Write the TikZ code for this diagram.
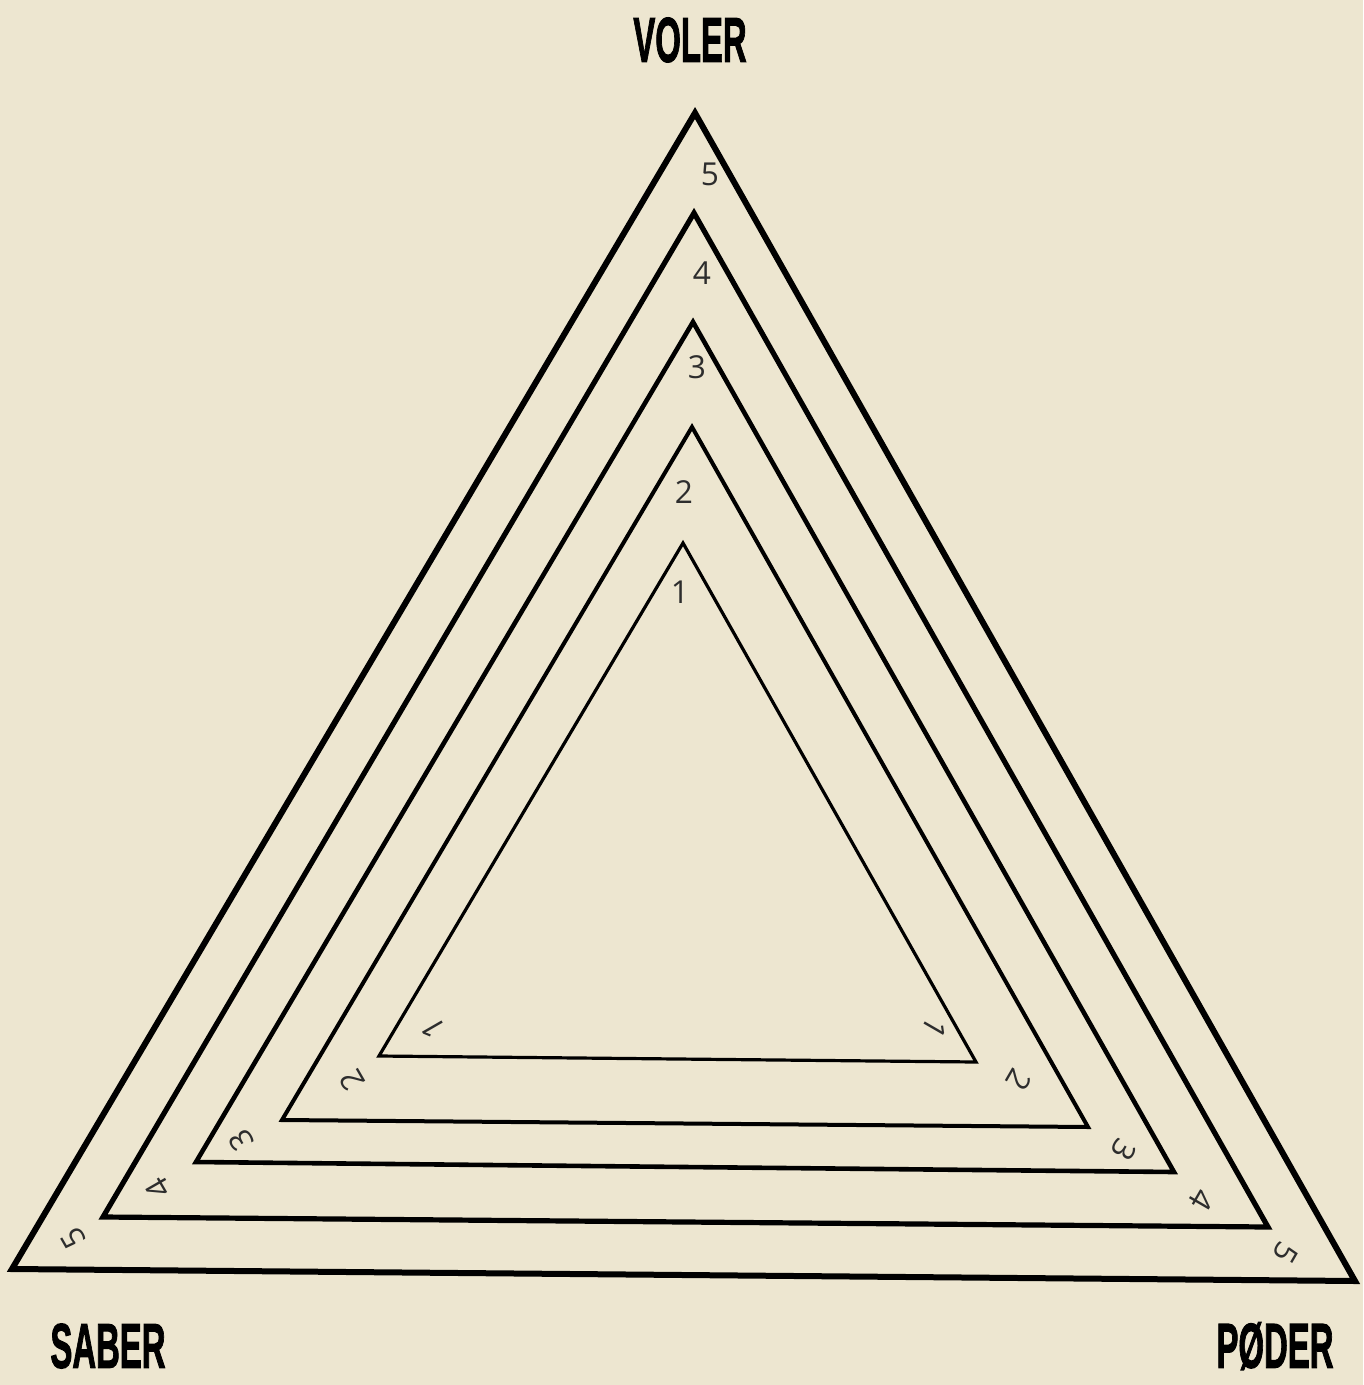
\documentclass[tikz,border=0pt]{standalone}
\usepackage{fontspec}
\usepackage{graphicx}
\usepackage{xcolor}
\setmainfont{Open Sans}
\newfontfamily\headfont[FakeBold=2]{Liberation Sans}
\definecolor{paper}{RGB}{237,230,208}
\definecolor{ink}{RGB}{45,45,45}

\tikzset{
  heading/.style={font=\headfont\bfseries\fontsize{36}{36}\selectfont, inner sep=0pt},
  level/.style={font=\fontsize{18}{18}\selectfont, text=ink, inner sep=0pt},
}

\begin{document}
\begin{tikzpicture}[x=0.02cm, y=-0.02cm, line join=miter]
  % background
  \fill[paper] (0,0) rectangle (1363,1385);
  \useasboundingbox (0,0) rectangle (1363,1385);

  % nested triangles
  \foreach \i/\w/\ax/\ay/\lx/\ly/\rx/\ry in {
      5/6/695/113/12/1269/1355/1281,
      4/5.2/694/213/103/1217/1268/1227,
      3/4.6/693/322/196/1162/1174/1172,
      2/4/692/427/282/1120/1088/1127,
      1/3.2/683/543/379/1056/976/1062}
  {
    \coordinate (top\i) at (\ax,\ay);
    \coordinate (left\i) at (\lx,\ly);
    \coordinate (right\i) at (\rx,\ry);
    \draw[line width=\w*0.569pt] (top\i) -- (left\i) -- (right\i) -- cycle;
  }

  % level numbers
  \foreach \i/\tx/\ty/\lx/\ly/\rx/\ry in {
      5/710/174/73/1238/1286/1253,
      4/702/273/158/1188/1202/1200,
      3/697/367/241/1140/1124/1150,
      2/684/492/352/1080/1019/1080,
      1/680/592/433/1028/935/1028}
  {
    \node[level] (ntop\i) at (\tx,\ty) {\i};
    \node[level, rotate=120] (nleft\i) at (\lx,\ly) {\i};
    \node[level, rotate=-120] (nright\i) at (\rx,\ry) {\i};
  }

  % corner titles
  \node[heading] (voler) at (690,40) {\scalebox{0.52}[1]{VOLER}};
  \node[heading] (saber) at (108,1346) {\scalebox{0.52}[1]{SABER}};
  \node[heading] (poder) at (1275,1346) {\scalebox{0.52}[1]{PØDER}};
\end{tikzpicture}
\end{document}
